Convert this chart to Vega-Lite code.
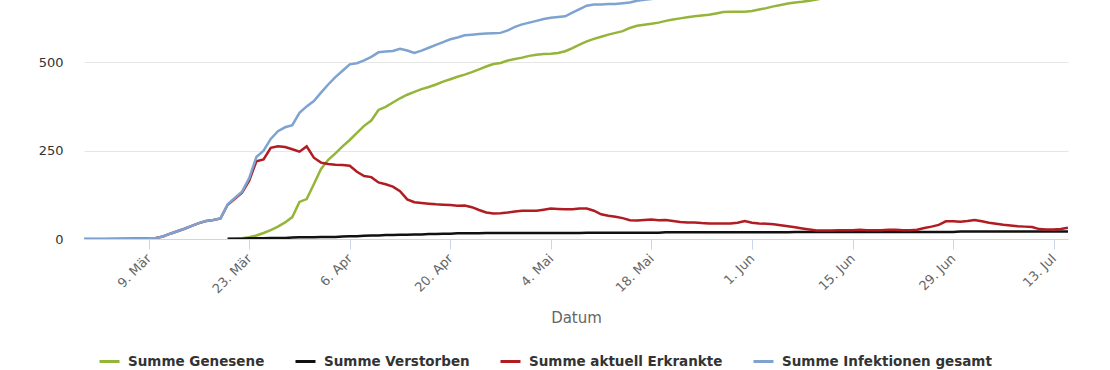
{
  "$schema": "https://vega.github.io/schema/vega-lite/v6.json",
  "width": 984,
  "height": 239,
  "autosize": "none",
  "padding": {"left": 84, "top": 0, "right": 42, "bottom": 131},
  "background": "white",
  "config": {"view": {"stroke": null}, "font": "DejaVu Sans"},
  "data": {"values": [
    {"datum":"2020-02-29","erk":0,"inf":0},
    {"datum":"2020-03-03","erk":0,"inf":0},
    {"datum":"2020-03-06","erk":1,"inf":1},
    {"datum":"2020-03-09","erk":2,"inf":2},
    {"datum":"2020-03-10","erk":3,"inf":3},
    {"datum":"2020-03-11","erk":7,"inf":7},
    {"datum":"2020-03-12","erk":15,"inf":15},
    {"datum":"2020-03-13","erk":22,"inf":22},
    {"datum":"2020-03-14","erk":29,"inf":29},
    {"datum":"2020-03-15","erk":37,"inf":37},
    {"datum":"2020-03-16","erk":45,"inf":45},
    {"datum":"2020-03-17","erk":51,"inf":51},
    {"datum":"2020-03-18","erk":54,"inf":54},
    {"datum":"2020-03-19","erk":58,"inf":58},
    {"datum":"2020-03-20","gen":0,"ver":1,"erk":97,"inf":98},
    {"datum":"2020-03-21","gen":1,"ver":1,"erk":114,"inf":116},
    {"datum":"2020-03-22","gen":2,"ver":1,"erk":131,"inf":134},
    {"datum":"2020-03-23","gen":5,"ver":2,"erk":165,"inf":172},
    {"datum":"2020-03-24","gen":10,"ver":2,"erk":220,"inf":232},
    {"datum":"2020-03-25","gen":17,"ver":2,"erk":225,"inf":250},
    {"datum":"2020-03-26","gen":25,"ver":3,"erk":258,"inf":283},
    {"datum":"2020-03-27","gen":35,"ver":3,"erk":262,"inf":305},
    {"datum":"2020-03-28","gen":47,"ver":3,"erk":260,"inf":316},
    {"datum":"2020-03-29","gen":62,"ver":4,"erk":254,"inf":322},
    {"datum":"2020-03-30","gen":105,"ver":5,"erk":247,"inf":357},
    {"datum":"2020-03-31","gen":113,"ver":5,"erk":262,"inf":375},
    {"datum":"2020-04-01","gen":155,"ver":5,"erk":230,"inf":390},
    {"datum":"2020-04-02","gen":198,"ver":6,"erk":216,"inf":414},
    {"datum":"2020-04-03","gen":224,"ver":6,"erk":212,"inf":437},
    {"datum":"2020-04-04","gen":242,"ver":6,"erk":210,"inf":458},
    {"datum":"2020-04-05","gen":262,"ver":7,"erk":209,"inf":476},
    {"datum":"2020-04-06","gen":280,"ver":8,"erk":207,"inf":494},
    {"datum":"2020-04-07","gen":300,"ver":8,"erk":190,"inf":497},
    {"datum":"2020-04-08","gen":320,"ver":9,"erk":178,"inf":505},
    {"datum":"2020-04-09","gen":335,"ver":10,"erk":175,"inf":515},
    {"datum":"2020-04-10","gen":365,"ver":10,"erk":160,"inf":528},
    {"datum":"2020-04-11","gen":374,"ver":11,"erk":155,"inf":530},
    {"datum":"2020-04-12","gen":386,"ver":11,"erk":148,"inf":532},
    {"datum":"2020-04-13","gen":398,"ver":12,"erk":135,"inf":538},
    {"datum":"2020-04-14","gen":408,"ver":12,"erk":112,"inf":533},
    {"datum":"2020-04-15","gen":416,"ver":13,"erk":104,"inf":526},
    {"datum":"2020-04-16","gen":424,"ver":13,"erk":102,"inf":533},
    {"datum":"2020-04-17","gen":430,"ver":14,"erk":100,"inf":541},
    {"datum":"2020-04-18","gen":437,"ver":14,"erk":98,"inf":549},
    {"datum":"2020-04-19","gen":445,"ver":15,"erk":97,"inf":557},
    {"datum":"2020-04-20","gen":452,"ver":15,"erk":96,"inf":565},
    {"datum":"2020-04-21","gen":459,"ver":16,"erk":94,"inf":570},
    {"datum":"2020-04-22","gen":465,"ver":16,"erk":95,"inf":576},
    {"datum":"2020-04-23","gen":472,"ver":16,"erk":90,"inf":578},
    {"datum":"2020-04-24","gen":480,"ver":16,"erk":82,"inf":580},
    {"datum":"2020-04-25","gen":488,"ver":17,"erk":75,"inf":581},
    {"datum":"2020-04-26","gen":495,"ver":17,"erk":72,"inf":582},
    {"datum":"2020-04-27","gen":498,"ver":17,"erk":73,"inf":583},
    {"datum":"2020-04-28","gen":505,"ver":17,"erk":75,"inf":590},
    {"datum":"2020-04-29","gen":509,"ver":17,"erk":78,"inf":600},
    {"datum":"2020-04-30","gen":513,"ver":17,"erk":80,"inf":607},
    {"datum":"2020-05-01","gen":518,"ver":17,"erk":80,"inf":612},
    {"datum":"2020-05-02","gen":521,"ver":17,"erk":80,"inf":617},
    {"datum":"2020-05-03","gen":523,"ver":17,"erk":83,"inf":622},
    {"datum":"2020-05-04","gen":524,"ver":17,"erk":86,"inf":626},
    {"datum":"2020-05-05","gen":526,"ver":17,"erk":85,"inf":628},
    {"datum":"2020-05-06","gen":531,"ver":17,"erk":84,"inf":630},
    {"datum":"2020-05-07","gen":540,"ver":17,"erk":84,"inf":640},
    {"datum":"2020-05-08","gen":550,"ver":17,"erk":86,"inf":650},
    {"datum":"2020-05-09","gen":559,"ver":18,"erk":86,"inf":660},
    {"datum":"2020-05-10","gen":566,"ver":18,"erk":80,"inf":663},
    {"datum":"2020-05-11","gen":572,"ver":18,"erk":70,"inf":663},
    {"datum":"2020-05-12","gen":578,"ver":18,"erk":66,"inf":665},
    {"datum":"2020-05-13","gen":583,"ver":18,"erk":63,"inf":665},
    {"datum":"2020-05-14","gen":588,"ver":18,"erk":59,"inf":667},
    {"datum":"2020-05-15","gen":597,"ver":18,"erk":53,"inf":669},
    {"datum":"2020-05-16","gen":603,"ver":18,"erk":52,"inf":674},
    {"datum":"2020-05-17","gen":606,"ver":18,"erk":54,"inf":677},
    {"datum":"2020-05-18","gen":609,"ver":18,"erk":55,"inf":679},
    {"datum":"2020-05-19","gen":612,"ver":18,"erk":53,"inf":682},
    {"datum":"2020-05-20","gen":617,"ver":19,"erk":54,"inf":689},
    {"datum":"2020-05-21","gen":621,"ver":19,"erk":51,"inf":691},
    {"datum":"2020-05-22","gen":624,"ver":19,"erk":48,"inf":691},
    {"datum":"2020-05-23","gen":627,"ver":19,"erk":47,"inf":693},
    {"datum":"2020-05-24","gen":630,"ver":19,"erk":47,"inf":696},
    {"datum":"2020-05-25","gen":632,"ver":19,"erk":45,"inf":696},
    {"datum":"2020-05-26","gen":634,"ver":19,"erk":44,"inf":697},
    {"datum":"2020-05-27","gen":638,"ver":19,"erk":44,"inf":701},
    {"datum":"2020-05-28","gen":642,"ver":19,"erk":44,"inf":705},
    {"datum":"2020-05-29","gen":643,"ver":19,"erk":44,"inf":706},
    {"datum":"2020-05-30","gen":643,"ver":19,"erk":46,"inf":708},
    {"datum":"2020-05-31","gen":643,"ver":19,"erk":51,"inf":713},
    {"datum":"2020-06-01","gen":645,"ver":19,"erk":46,"inf":713},
    {"datum":"2020-06-02","gen":649,"ver":19,"erk":44,"inf":714},
    {"datum":"2020-06-03","gen":653,"ver":19,"erk":43,"inf":716},
    {"datum":"2020-06-04","gen":658,"ver":19,"erk":42,"inf":719},
    {"datum":"2020-06-05","gen":662,"ver":19,"erk":39,"inf":720},
    {"datum":"2020-06-06","gen":666,"ver":19,"erk":36,"inf":721},
    {"datum":"2020-06-07","gen":669,"ver":20,"erk":33,"inf":722},
    {"datum":"2020-06-08","gen":671,"ver":20,"erk":30,"inf":722},
    {"datum":"2020-06-09","gen":674,"ver":20,"erk":27,"inf":723},
    {"datum":"2020-06-10","gen":677,"ver":20,"erk":24,"inf":724},
    {"datum":"2020-06-11","gen":682,"ver":20,"erk":24,"inf":727},
    {"datum":"2020-06-12","gen":684,"ver":20,"erk":24,"inf":729},
    {"datum":"2020-06-13","gen":686,"ver":20,"erk":25,"inf":731},
    {"datum":"2020-06-14","gen":688,"ver":20,"erk":25,"inf":733},
    {"datum":"2020-06-15","gen":690,"ver":20,"erk":25,"inf":735},
    {"datum":"2020-06-16","gen":692,"ver":20,"erk":26,"inf":737},
    {"datum":"2020-06-17","gen":693,"ver":20,"erk":25,"inf":738},
    {"datum":"2020-06-18","gen":695,"ver":20,"erk":25,"inf":740},
    {"datum":"2020-06-19","gen":696,"ver":20,"erk":25,"inf":741},
    {"datum":"2020-06-20","gen":697,"ver":20,"erk":26,"inf":743},
    {"datum":"2020-06-21","gen":699,"ver":20,"erk":26,"inf":745},
    {"datum":"2020-06-22","gen":701,"ver":20,"erk":25,"inf":746},
    {"datum":"2020-06-23","gen":702,"ver":20,"erk":25,"inf":747},
    {"datum":"2020-06-24","gen":703,"ver":20,"erk":26,"inf":749},
    {"datum":"2020-06-25","gen":704,"ver":20,"erk":31,"inf":755},
    {"datum":"2020-06-26","gen":705,"ver":20,"erk":35,"inf":760},
    {"datum":"2020-06-27","gen":706,"ver":20,"erk":40,"inf":766},
    {"datum":"2020-06-28","gen":707,"ver":20,"erk":50,"inf":777},
    {"datum":"2020-06-29","gen":708,"ver":20,"erk":50,"inf":778},
    {"datum":"2020-06-30","gen":710,"ver":21,"erk":49,"inf":779},
    {"datum":"2020-07-01","gen":711,"ver":21,"erk":51,"inf":783},
    {"datum":"2020-07-02","gen":712,"ver":21,"erk":54,"inf":787},
    {"datum":"2020-07-03","gen":713,"ver":21,"erk":50,"inf":787},
    {"datum":"2020-07-04","gen":714,"ver":21,"erk":46,"inf":787},
    {"datum":"2020-07-05","gen":715,"ver":21,"erk":43,"inf":788},
    {"datum":"2020-07-06","gen":716,"ver":21,"erk":40,"inf":789},
    {"datum":"2020-07-07","gen":717,"ver":21,"erk":38,"inf":790},
    {"datum":"2020-07-08","gen":718,"ver":21,"erk":36,"inf":791},
    {"datum":"2020-07-09","gen":719,"ver":21,"erk":35,"inf":792},
    {"datum":"2020-07-10","gen":720,"ver":21,"erk":34,"inf":793},
    {"datum":"2020-07-11","gen":721,"ver":21,"erk":28,"inf":794},
    {"datum":"2020-07-12","gen":722,"ver":21,"erk":27,"inf":795},
    {"datum":"2020-07-13","gen":723,"ver":21,"erk":27,"inf":796},
    {"datum":"2020-07-14","gen":724,"ver":21,"erk":28,"inf":797},
    {"datum":"2020-07-15","gen":725,"ver":21,"erk":32,"inf":798}
  ]},
  "transform": [
    {"fold": ["gen", "ver", "erk", "inf"], "as": ["reihe", "wert"]},
    {"filter": "isValid(datum.wert)"}
  ],
  "encoding": {
    "x": {
      "field": "datum",
      "type": "temporal",
      "scale": {
        "type": "utc",
        "domain": [
          {"year": 2020, "month": 2, "date": 29, "utc": true},
          {"year": 2020, "month": 7, "date": 15, "utc": true}
        ],
        "nice": false
      },
      "axis": {
        "values": [
          {"year": 2020, "month": 3, "date": 9, "utc": true},
          {"year": 2020, "month": 3, "date": 23, "utc": true},
          {"year": 2020, "month": 4, "date": 6, "utc": true},
          {"year": 2020, "month": 4, "date": 20, "utc": true},
          {"year": 2020, "month": 5, "date": 4, "utc": true},
          {"year": 2020, "month": 5, "date": 18, "utc": true},
          {"year": 2020, "month": 6, "date": 1, "utc": true},
          {"year": 2020, "month": 6, "date": 15, "utc": true},
          {"year": 2020, "month": 6, "date": 29, "utc": true},
          {"year": 2020, "month": 7, "date": 13, "utc": true}
        ],
        "labelExpr": "utcdate(datum.value) + '. ' + ['Jan','Feb','Mär','Apr','Mai','Jun','Jul','Aug','Sep','Okt','Nov','Dez'][utcmonth(datum.value)]",
        "labelAngle": -45,
        "labelAlign": "right",
        "labelBaseline": "middle",
        "labelFontSize": 13,
        "labelColor": "#666666",
        "labelPadding": 7,
        "tickColor": "#ccd6eb",
        "tickSize": 10,
        "domainColor": "#ccd6eb",
        "grid": false,
        "title": "Datum",
        "titleFontSize": 15,
        "titleFontWeight": "normal",
        "titleColor": "#666666",
        "titlePadding": 15
      }
    },
    "y": {
      "field": "wert",
      "type": "quantitative",
      "scale": {"domain": [0, 676], "nice": false},
      "axis": {
        "values": [0, 250, 500],
        "grid": true,
        "gridColor": "#e6e6e6",
        "domain": false,
        "ticks": false,
        "labelFontSize": 13,
        "labelColor": "#333333",
        "labelPadding": 21,
        "title": null
      }
    },
    "color": {
      "field": "reihe",
      "type": "nominal",
      "scale": {
        "domain": ["gen", "ver", "erk", "inf"],
        "range": ["#94b53a", "#111111", "#b01c22", "#7ea3d0"]
      },
      "legend": {
        "orient": "none",
        "legendX": 14,
        "legendY": 350,
        "direction": "horizontal",
        "title": null,
        "symbolType": "stroke",
        "symbolStrokeWidth": 3,
        "symbolSize": 400,
        "labelFont": "DejaVu Sans",
        "labelFontSize": 13.5,
        "labelFontWeight": "bold",
        "labelColor": "#333333",
        "columnPadding": 24,
        "labelOffset": 7,
        "labelLimit": 400,
        "labelExpr": "datum.value == 'gen' ? 'Summe Genesene' : datum.value == 'ver' ? 'Summe Verstorben' : datum.value == 'erk' ? 'Summe aktuell Erkrankte' : 'Summe Infektionen gesamt'"
      }
    }
  },
  "layer": [
    {"transform": [{"filter": "datum.reihe == 'gen'"}], "mark": {"type": "line", "strokeWidth": 2.5, "clip": true}},
    {"transform": [{"filter": "datum.reihe == 'ver'"}], "mark": {"type": "line", "strokeWidth": 2.5, "clip": true}},
    {"transform": [{"filter": "datum.reihe == 'erk'"}], "mark": {"type": "line", "strokeWidth": 2.5, "clip": true}},
    {"transform": [{"filter": "datum.reihe == 'inf'"}], "mark": {"type": "line", "strokeWidth": 2.5, "clip": true}}
  ]
}
